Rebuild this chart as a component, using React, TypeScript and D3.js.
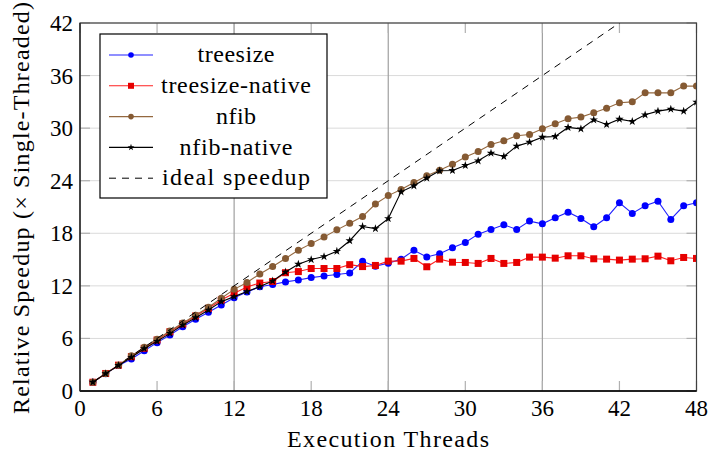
import React from "react";
import * as d3 from "d3";

// thread counts on the x axis
const threads = [
  1, 2, 3, 4, 5, 6, 7, 8, 9, 10, 11, 12, 13, 14, 15, 16, 17, 18, 19, 20, 21, 22, 23, 24,
  25, 26, 27, 28, 29, 30, 31, 32, 33, 34, 35, 36, 37, 38, 39, 40, 41, 42, 43, 44, 45, 46, 47, 48,
];

const treesize = [
  1.0, 1.98, 2.9, 3.65, 4.6, 5.52, 6.39, 7.34, 8.18, 8.98, 9.81, 10.65, 11.3, 11.9, 12.15, 12.45,
  12.66, 12.94, 13.13, 13.3, 13.47, 14.8, 14.25, 14.57, 15.05, 16.05, 15.3, 15.66, 16.34, 16.95,
  17.9, 18.44, 18.97, 18.44, 19.39, 19.08, 19.77, 20.41, 19.69, 18.74, 19.77, 21.48, 20.27, 21.14,
  21.67, 19.58, 21.14, 21.48,
];

const treesizeNative = [
  1.0, 2.0, 2.95, 3.92, 4.87, 5.82, 6.77, 7.65, 8.56, 9.44, 10.39, 11.15, 11.88, 12.32, 12.5, 13.5,
  13.63, 13.98, 13.98, 13.98, 14.42, 14.2, 14.33, 14.82, 14.82, 15.13, 14.18, 15.05, 14.7, 14.67,
  14.56, 15.13, 14.56, 14.67, 15.28, 15.28, 15.16, 15.43, 15.43, 15.09, 15.05, 14.94, 15.05, 15.09,
  15.39, 14.86, 15.24, 15.13,
];

const nfib = [
  1.0, 2.0, 2.95, 4.03, 4.98, 5.9, 6.85, 7.76, 8.64, 9.55, 10.58, 11.6, 12.39, 13.36, 14.2, 15.13,
  16.07, 16.82, 17.58, 18.39, 19.15, 19.91, 21.34, 22.3, 23.0, 23.8, 24.56, 25.2, 25.89, 26.7,
  27.34, 28.14, 28.56, 29.13, 29.28, 29.92, 30.5, 31.07, 31.26, 31.75, 32.28, 32.89, 33.0, 34.03,
  34.03, 34.03, 34.8, 34.8,
];

const nfibNative = [
  1.0, 1.98, 2.92, 3.85, 4.83, 5.67, 6.58, 7.53, 8.37, 9.24, 10.2, 10.77, 11.35, 11.92, 12.55, 13.58,
  14.47, 15.0, 15.34, 15.95, 17.15, 18.77, 18.54, 19.68, 22.73, 23.42, 24.3, 25.13, 25.17, 25.74,
  26.27, 27.15, 26.77, 27.95, 28.4, 28.97, 29.05, 30.08, 29.92, 30.95, 30.42, 31.03, 30.76, 31.52,
  31.94, 32.17, 31.94, 32.97,
];

const idealThreads = [1, 48];
const idealSpeedup = [1, 48];

const xTicks = [0, 6, 12, 18, 24, 30, 36, 42, 48];
const yTicks = [0, 6, 12, 18, 24, 30, 36, 42];
const dividerThreads = [12, 24, 36];

const seriesNames = ["treesize", "treesize-native", "nfib", "nfib-native", "ideal speedup"];
// rough widths of the legend labels in the original, so the serif text fills the same space
const legendWidths = [77, 150, 40, 113, 148];

const FONT = "'Liberation Serif', 'DejaVu Serif', 'Noto Serif', 'Times New Roman', Times, serif";
const txt = { fontFamily: FONT };

const Marker = ({ kind, color, cx, cy, small }) => {
  if (kind === "circle") {
    return <circle cx={cx} cy={cy} r={small ? 2.8 : 3.5} fill={color} />;
  }
  if (kind === "square") {
    const s = small ? 6 : 7;
    return <rect x={cx - s / 2} y={cy - s / 2} width={s} height={s} fill={color} />;
  }
  if (kind === "star") {
    const path = d3.symbol().type(d3.symbolStar).size(small ? 14 : 22)();
    return <path d={path} transform={`translate(${cx},${cy})`} fill={color} />;
  }
  return null;
};

export default function App() {
  const x = d3.scaleLinear().domain([0, 48]).range([80, 696.5]);
  const y = d3.scaleLinear().domain([0, 42]).range([391, 23]);

  const series = [
    { name: seriesNames[0], values: treesize, line: "#2020ff", mark: "#0000ff", kind: "circle" },
    { name: seriesNames[1], values: treesizeNative, line: "#ff2020", mark: "#e60000", kind: "square" },
    { name: seriesNames[2], values: nfib, line: "#94683f", mark: "#855a33", kind: "circle" },
    { name: seriesNames[3], values: nfibNative, line: "#000000", mark: "#000000", kind: "star" },
  ];

  const line = d3
    .line<number>()
    .x((d, i) => x(threads[i]))
    .y((d) => y(d));

  const idealLine = d3
    .line<number>()
    .x((d, i) => x(idealThreads[i]))
    .y((d) => y(d));

  const [x0, x1] = x.range();
  const [y0, y1] = y.range();

  const legendX = 100;
  const legendY = 34;
  const rowH = 30.8;

  return (
    <div style={{ position: "fixed", left: 0, top: 0 }}>
      <svg width={710} height={454} style={{ display: "block", background: "#fff", fontFamily: FONT }}>
        <defs>
          <clipPath id="plot-clip">
            <rect x={x0} y={y1} width={x1 - x0} height={y0 - y1} />
          </clipPath>
        </defs>

        {/* horizontal grid */}
        {yTicks.map((t) => (
          <line key={"hg" + t} x1={x0} x2={x1} y1={y(t)} y2={y(t)} stroke="#dadada" strokeWidth={1} />
        ))}
        {/* thread-group dividers */}
        {dividerThreads.map((t) => (
          <line key={"vd" + t} x1={x(t)} x2={x(t)} y1={y1} y2={y0} stroke="#a0a0a0" strokeWidth={1.2} />
        ))}
        {/* ticks, inside, all four sides */}
        {xTicks.map((t) => (
          <g key={"xt" + t}>
            <line x1={x(t)} x2={x(t)} y1={y0} y2={y0 - 10} stroke="#b0b0b0" strokeWidth={1.2} />
            <line x1={x(t)} x2={x(t)} y1={y1} y2={y1 + 10} stroke="#b0b0b0" strokeWidth={1.2} />
          </g>
        ))}
        {yTicks.map((t) => (
          <g key={"yt" + t}>
            <line x1={x0} x2={x0 + 10} y1={y(t)} y2={y(t)} stroke="#b0b0b0" strokeWidth={1.2} />
            <line x1={x1} x2={x1 - 10} y1={y(t)} y2={y(t)} stroke="#b0b0b0" strokeWidth={1.2} />
          </g>
        ))}

        {/* series */}
        <g clipPath="url(#plot-clip)">
          {series.map((s) => (
            <g key={s.name}>
              <path d={line(s.values) || ""} fill="none" stroke={s.line} strokeWidth={1.1} />
              {s.values.map((v, i) => (
                <Marker key={i} kind={s.kind} color={s.mark} cx={x(threads[i])} cy={y(v)} />
              ))}
            </g>
          ))}
          <path
            d={idealLine(idealSpeedup) || ""}
            fill="none"
            stroke="#000"
            strokeWidth={1}
            strokeDasharray="7,6"
          />
        </g>

        {/* frame */}
        <rect x={x0} y={y1} width={x1 - x0} height={y0 - y1} fill="none" stroke="#404040" strokeWidth={1.2} />
        <line x1={x0} x2={x1} y1={y0} y2={y0} stroke="#000" strokeWidth={1.3} />
        <line x1={x0} x2={x0} y1={y1} y2={y0} stroke="#222" strokeWidth={1.3} />

        {/* tick labels */}
        {xTicks.map((t) => (
          <text key={"xl" + t} x={x(t)} y={416} textAnchor="middle" style={txt} fontSize={23}>
            {t}
          </text>
        ))}
        {yTicks.map((t) => (
          <text key={"yl" + t} x={73} y={y(t)} dy="0.35em" textAnchor="end" style={txt} fontSize={23}>
            {t}
          </text>
        ))}

        {/* axis titles */}
        <text
          x={388}
          y={447}
          textAnchor="middle"
          style={txt}
          fontSize={24}
          textLength={202}
          lengthAdjust="spacing"
        >
          Execution Threads
        </text>
        <text
          transform="translate(29,208) rotate(-90)"
          textAnchor="middle"
          style={txt}
          fontSize={24}
          textLength={412}
          lengthAdjust="spacing"
        >
          Relative Speedup (× Single-Threaded)
        </text>

        {/* legend */}
        <g>
          <rect x={legendX} y={legendY} width={227} height={164} fill="#fff" stroke="#000" strokeWidth={1.2} />
          {series.map((s, i) => {
            const cy = legendY + 21 + i * rowH;
            return (
              <g key={"lg" + s.name}>
                <line x1={109} x2={153} y1={cy} y2={cy} stroke={s.line} strokeWidth={1.1} />
                <Marker kind={s.kind} color={s.mark} cx={131} cy={cy} small />
                <text
                  x={236}
                  y={cy}
                  dy="0.3em"
                  textAnchor="middle"
                  style={txt}
                  fontSize={24}
                  textLength={legendWidths[i]}
                  lengthAdjust="spacing"
                >
                  {s.name}
                </text>
              </g>
            );
          })}
          {(() => {
            const cy = legendY + 21 + 4 * rowH;
            return (
              <g>
                <line x1={109} x2={153} y1={cy} y2={cy} stroke="#000" strokeWidth={1} strokeDasharray="7,6" />
                <text
                  x={236}
                  y={cy}
                  dy="0.3em"
                  textAnchor="middle"
                  style={txt}
                  fontSize={24}
                  textLength={legendWidths[4]}
                  lengthAdjust="spacing"
                >
                  {seriesNames[4]}
                </text>
              </g>
            );
          })()}
        </g>
      </svg>
    </div>
  );
}
